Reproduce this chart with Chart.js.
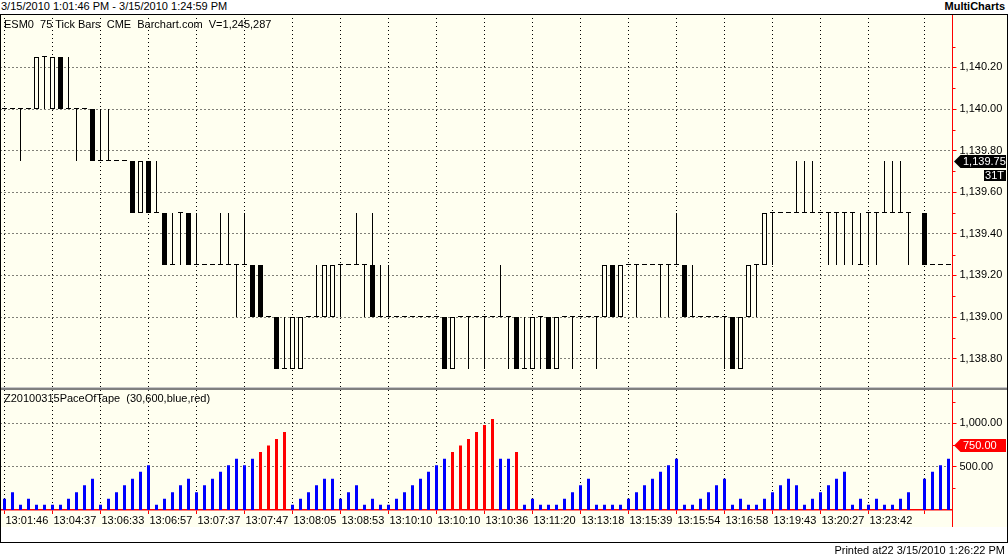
<!DOCTYPE html>
<html>
<head>
<meta charset="utf-8">
<title>ESM0 75 Tick Bars</title>
<script src="https://cdn.jsdelivr.net/npm/chart.js@4.4.1/dist/chart.umd.min.js"></script>
<style>
  body { margin:0; width:1008px; height:557px; position:relative; overflow:hidden; background:#fff;
         font-family:"Liberation Sans", Arial, sans-serif; font-size:11px; color:#000; }
  canvas { position:absolute; left:0; background:#fffff0; }
  #priceCanvas { top:14px; }
  #paceCanvas { top:390px; }
  .lbl { position:absolute; white-space:pre; line-height:13px; z-index:2; }
  #frame { position:absolute; left:0; top:14px; width:1006px; height:527px; border:1px solid #000; z-index:3; }
  #sepLight { position:absolute; left:0; top:387px; width:1008px; height:1px; background:#c8c8c8; z-index:2; }
  #sepDark { position:absolute; left:0; top:388px; width:1008px; height:2px; background:#808080; z-index:2; }
  #axisTail { position:absolute; left:952px; top:510px; width:1px; height:17px; background:#f00; z-index:2; }
</style>
</head>
<body>
<div class="lbl" style="left:1px;top:0">3/15/2010 1:01:46 PM - 3/15/2010 1:24:59 PM</div>
<div class="lbl" style="right:3px;top:0;font-weight:bold">MultiCharts</div>
<canvas id="priceCanvas" width="1008" height="374"></canvas>
<canvas id="paceCanvas" width="1008" height="137"></canvas>
<div id="sepLight"></div><div id="sepDark"></div><div id="axisTail"></div>
<div id="frame"></div>
<div class="lbl" style="left:4px;top:18px">ESM0  75 Tick Bars  CME  Barchart.com  V=1,245,287</div>
<div class="lbl" style="left:4px;top:392px">Z20100315PaceOfTape  (30,600,blue,red)</div>
<div class="lbl" style="right:3px;top:544px">Printed at22 3/15/2010 1:26:22 PM</div>
<script>
"use strict"
//75 tick bars
var openPx = [1140,1140,1140,1140,1140,1140.25,1140,1140.25,1140,1140,
  1140,1140,1139.75,1139.75,1139.75,1139.75,1139.75,1139.5,1139.75,1139.5,
  1139.5,1139.25,1139.5,1139.5,1139.25,1139.25,1139.25,1139.25,1139.25,1139.25,
  1139.25,1139.25,1139.25,1139,1139,1138.75,1138.75,1138.75,1139,1139,
  1139,1139,1139.25,1139.25,1139.25,1139.25,1139.25,1139,1139,1139,
  1139,1139,1139,1139,1139,1139,1138.75,1139,1139,1139,
  1139,1139,1139,1139,1139,1138.75,1138.75,1139,1139,1138.75,
  1139,1139,1139,1139,1139,1139,1139.25,1139,1139.25,1139.25,
  1139.25,1139.25,1139.25,1139.25,1139.25,1139.25,1139,1139,1139,1139,
  1139,1139,1138.75,1139,1139.25,1139.25,1139.5,1139.5,1139.5,1139.5,
  1139.5,1139.5,1139.5,1139.5,1139.5,1139.5,1139.5,1139.25,1139.5,1139.5,
  1139.5,1139.5,1139.5,1139.5,1139.5,1139.5,1139.25,1139.25,1139.25];
var highPx = [1140,1140,1140,1140,1140.25,1140.25,1140.25,1140.25,1140.25,1140,
  1140,1140,1140,1140,1139.75,1139.75,1139.75,1139.75,1139.75,1139.75,
  1139.5,1139.5,1139.5,1139.5,1139.5,1139.25,1139.25,1139.5,1139.5,1139.25,
  1139.5,1139.25,1139.25,1139,1139,1139,1139,1139,1139,1139.25,
  1139.25,1139.25,1139.25,1139.25,1139.5,1139.25,1139.5,1139.25,1139.25,1139,
  1139,1139,1139,1139,1139,1139,1139,1139,1139,1139,
  1139,1139,1139.25,1139,1139,1139,1139,1139,1139,1139,
  1139,1139,1139,1139,1139,1139.25,1139.25,1139.25,1139.25,1139.25,
  1139.25,1139.25,1139.25,1139.25,1139.5,1139.25,1139.25,1139,1139,1139,
  1139,1139,1139,1139.25,1139.25,1139.5,1139.5,1139.5,1139.5,1139.75,
  1139.75,1139.75,1139.5,1139.5,1139.5,1139.5,1139.5,1139.5,1139.5,1139.5,
  1139.75,1139.75,1139.75,1139.5,1139.5,1139.5,1139.25,1139.25,1139.25];
var lowPx = [1140,1140,1139.75,1140,1140,1140,1140,1140,1140,1139.75,
  1140,1139.75,1139.75,1139.75,1139.75,1139.75,1139.5,1139.5,1139.5,1139.5,
  1139.25,1139.25,1139.25,1139.25,1139.25,1139.25,1139.25,1139.25,1139.25,1139,
  1139.25,1139,1139,1139,1138.75,1138.75,1138.75,1138.75,1139,1139,
  1139,1139,1139,1139.25,1139.25,1139,1139,1139,1139,1139,
  1139,1139,1139,1139,1139,1138.75,1138.75,1139,1138.75,1139,
  1138.75,1139,1139,1138.75,1138.75,1138.75,1138.75,1138.75,1138.75,1138.75,
  1139,1138.75,1139,1139,1138.75,1139,1139,1139,1139.25,1139,
  1139.25,1139.25,1139,1139,1139.25,1139,1139,1139,1139,1139,
  1138.75,1138.75,1138.75,1139,1139,1139.25,1139.25,1139.5,1139.5,1139.5,
  1139.5,1139.5,1139.5,1139.25,1139.25,1139.25,1139.25,1139.25,1139.25,1139.25,
  1139.5,1139.5,1139.5,1139.25,1139.25,1139.25,1139.25,1139.25,1139.25];
var closePx = [1140,1140,1140,1140,1140.25,1140.25,1140.25,1140,1140,1140,
  1140,1139.75,1139.75,1139.75,1139.75,1139.75,1139.5,1139.75,1139.5,1139.5,
  1139.25,1139.25,1139.5,1139.25,1139.25,1139.25,1139.25,1139.25,1139.25,1139.25,
  1139.25,1139,1139,1139,1138.75,1138.75,1139,1139,1139,1139,
  1139.25,1139.25,1139.25,1139.25,1139.25,1139.25,1139,1139,1139,1139,
  1139,1139,1139,1139,1139,1138.75,1139,1139,1139,1139,
  1139,1139,1139,1139,1138.75,1138.75,1139,1139,1138.75,1139,
  1139,1139,1139,1139,1139,1139.25,1139,1139.25,1139.25,1139.25,
  1139.25,1139.25,1139.25,1139.25,1139.25,1139,1139,1139,1139,1139,
  1139,1138.75,1139,1139.25,1139.25,1139.5,1139.5,1139.5,1139.5,1139.5,
  1139.5,1139.5,1139.5,1139.5,1139.5,1139.5,1139.5,1139.25,1139.5,1139.5,
  1139.5,1139.5,1139.5,1139.5,1139.5,1139.25,1139.25,1139.25,1139.25];

//Z20100315PaceOfTape histogram, one value per bar
var paceVals = [130,205,60,130,60,60,60,60,130,205,
  285,360,60,130,205,285,360,440,515,60,
  130,205,285,360,205,285,360,440,515,590,
  515,590,670,745,820,900,60,130,205,285,
  360,360,130,205,285,60,130,60,60,130,
  205,285,360,440,515,590,670,745,820,900,
  980,1050,590,590,670,60,130,60,60,60,
  130,205,285,360,60,60,60,60,130,205,
  285,360,440,515,590,60,60,130,205,285,
  360,60,130,60,60,130,205,285,360,285,
  60,130,205,285,360,440,60,130,60,130,
  60,60,130,205,285,360,440,515,590];

var timeLabels = ["13:01:46","13:04:37","13:06:33","13:06:57","13:07:37","13:07:47","13:08:05",
  "13:08:53","13:10:10","13:10:10","13:10:36","13:11:20","13:13:18","13:15:39","13:15:54",
  "13:16:58","13:19:43","13:20:27","13:23:42"];
var priceTicks = [1138.8,1139.0,1139.2,1139.4,1139.6,1139.8,1140.0,1140.2];
var priceMinor = [1138.9,1139.1,1139.3,1139.5,1139.7,1139.9,1140.1,1140.3];
var paceTicks = [500,1000];
var paceMinor = [250,750,1250];
var lastPrice = 1139.75;
var paceAlert = 750;
var paceLimit = 600;//indicator input, bars above it turn red

var ivory = "#fffff0";
var labelEvery = 6;
var cats = openPx.map(function(v, i) { return i % labelEvery === 0 ? timeLabels[i / labelEvery] : ""; });

Chart.defaults.font.family = "'Liberation Sans', Arial, sans-serif";
Chart.defaults.font.size = 11;
Chart.defaults.color = "#000";

function money(v) {
  return Number(v).toLocaleString("en-US", {minimumFractionDigits: 2, maximumFractionDigits: 2});
}
function gridAt6(c) { return c.index % labelEvery === 0 ? "#000" : "rgba(0,0,0,0)"; }
//no extra room for the end labels, the plot has to fill its canvas exactly
function noPad(s) { s.paddingTop = 0; s.paddingBottom = 0; s.paddingLeft = 0; s.paddingRight = 0; }

//red minor ticks on the right axis and the value tag with the arrow
var axisMarks = {
  id: "axisMarks",
  afterDraw: function(chart, args, opts) {
    var ctx = chart.ctx, ys = chart.scales.y, area = chart.chartArea, x0 = area.right;
    ctx.save();
    ctx.strokeStyle = "#f00";
    ctx.lineWidth = 1;
    opts.minor.forEach(function(v) {
      var y = Math.round(ys.getPixelForValue(v)) + 0.5;
      if (y < area.top || y > area.bottom) return;
      ctx.beginPath(); ctx.moveTo(x0, y); ctx.lineTo(x0 + 3, y); ctx.stroke();
    });
    var y = Math.round(ys.getPixelForValue(opts.value)) + 0.5;
    ctx.fillStyle = opts.color;
    ctx.beginPath();
    ctx.moveTo(x0 + 1.5, y);
    ctx.lineTo(x0 + 8, y - 6.5);
    ctx.lineTo(1006, y - 6.5);
    ctx.lineTo(1006, y + 6.5);
    ctx.lineTo(x0 + 8, y + 6.5);
    ctx.closePath();
    ctx.fill();
    ctx.fillStyle = "#fff";
    ctx.font = "11px 'Liberation Sans', Arial, sans-serif";
    ctx.textBaseline = "middle";
    ctx.textAlign = "left";
    ctx.fillText(money(opts.value), x0 + 10.5, y + 0.5);
    if (opts.note) {//tick count box under the price tag
      ctx.fillStyle = "#000";
      ctx.fillRect(984, y + 8.5, 22, 11);
      ctx.fillStyle = "#fff";
      ctx.textAlign = "right";
      ctx.fillText(opts.note, 1004, y + 14.5);
    }
    ctx.restore();
  }
};

var priceChart = new Chart(document.getElementById("priceCanvas"), {
  type: "bar",
  data: {
    labels: cats,
    datasets: [
      {//open-close bodies: hollow up, filled down, flat ones become a short dash
        data: openPx.map(function(o, i) { return [o, closePx[i]]; }),
        backgroundColor: function(c) { return closePx[c.dataIndex] > openPx[c.dataIndex] ? ivory : "#000"; },
        borderColor: "#000",
        borderWidth: 1,
        borderSkipped: false,
        inflateAmount: 0,
        barThickness: 5,
        minBarLength: 1,
        grouped: false,
        order: 0
      },
      {//high-low range
        data: lowPx.map(function(l, i) { return [l, highPx[i]]; }),
        backgroundColor: "#000",
        borderWidth: 0,
        inflateAmount: 0,
        barThickness: 1,
        grouped: false,
        order: 1
      }
    ]
  },
  options: {
    animation: false,
    responsive: false,
    devicePixelRatio: 1,
    layout: { padding: { left: 0.5, right: 0, top: 0, bottom: 0 } },
    plugins: {
      legend: { display: false },
      tooltip: { enabled: false },
      axisMarks: { minor: priceMinor, value: lastPrice, color: "#000", note: "31T" }
    },
    scales: {
      x: {
        offset: true,
        ticks: { display: false },
        grid: { offset: false, drawTicks: false, color: gridAt6 },
        border: { display: false, dash: [1, 3] },
        afterFit: function(s) { s.height = 0; noPad(s); }
      },
      y: {
        position: "right",
        min: 1138.658654,
        max: 1140.456731,
        afterBuildTicks: function(s) { s.ticks = priceTicks.map(function(v) { return {value: v}; }); },
        ticks: { padding: 3, callback: money },
        grid: { color: "#000", tickColor: "#f00", tickLength: 4 },
        border: { color: "#f00", dash: [1, 3] },
        afterFit: function(s) { s.width = 55.5; noPad(s); }
      }
    }
  },
  plugins: [axisMarks]
});

var paceChart = new Chart(document.getElementById("paceCanvas"), {
  type: "bar",
  data: {
    labels: cats,
    datasets: [{
      data: paceVals,
      backgroundColor: function(c) { return paceVals[c.dataIndex] > paceLimit ? "#f00" : "#00f"; },
      borderWidth: 0,
      inflateAmount: 0,
      barThickness: 3
    }]
  },
  options: {
    animation: false,
    responsive: false,
    devicePixelRatio: 1,
    layout: { padding: { left: 0.5, right: 0, top: 0, bottom: 0 } },
    plugins: {
      legend: { display: false },
      tooltip: { enabled: false },
      axisMarks: { minor: paceMinor, value: paceAlert, color: "#f00" }
    },
    scales: {
      x: {
        offset: true,
        ticks: { autoSkip: false, maxRotation: 0, minRotation: 0, align: "start", labelOffset: 1, padding: 0 },
        grid: {
          offset: false,
          color: gridAt6,
          tickColor: function(c) { return c.index % labelEvery === 0 ? "#f00" : "rgba(0,0,0,0)"; },
          tickLength: 4
        },
        border: { color: "#f00", width: 1.5, dash: [1, 3] },
        afterFit: function(s) { s.height = 17; noPad(s); }
      },
      y: {
        position: "right",
        min: 0,
        max: 1384,
        afterBuildTicks: function(s) { s.ticks = paceTicks.map(function(v) { return {value: v}; }); },
        ticks: { padding: 3, callback: money },
        grid: { color: "#000", tickColor: "#f00", tickLength: 4 },
        border: { color: "#f00", dash: [1, 3] },
        afterFit: function(s) { s.width = 55.5; noPad(s); }
      }
    }
  },
  plugins: [axisMarks]
});
</script>
</body>
</html>
